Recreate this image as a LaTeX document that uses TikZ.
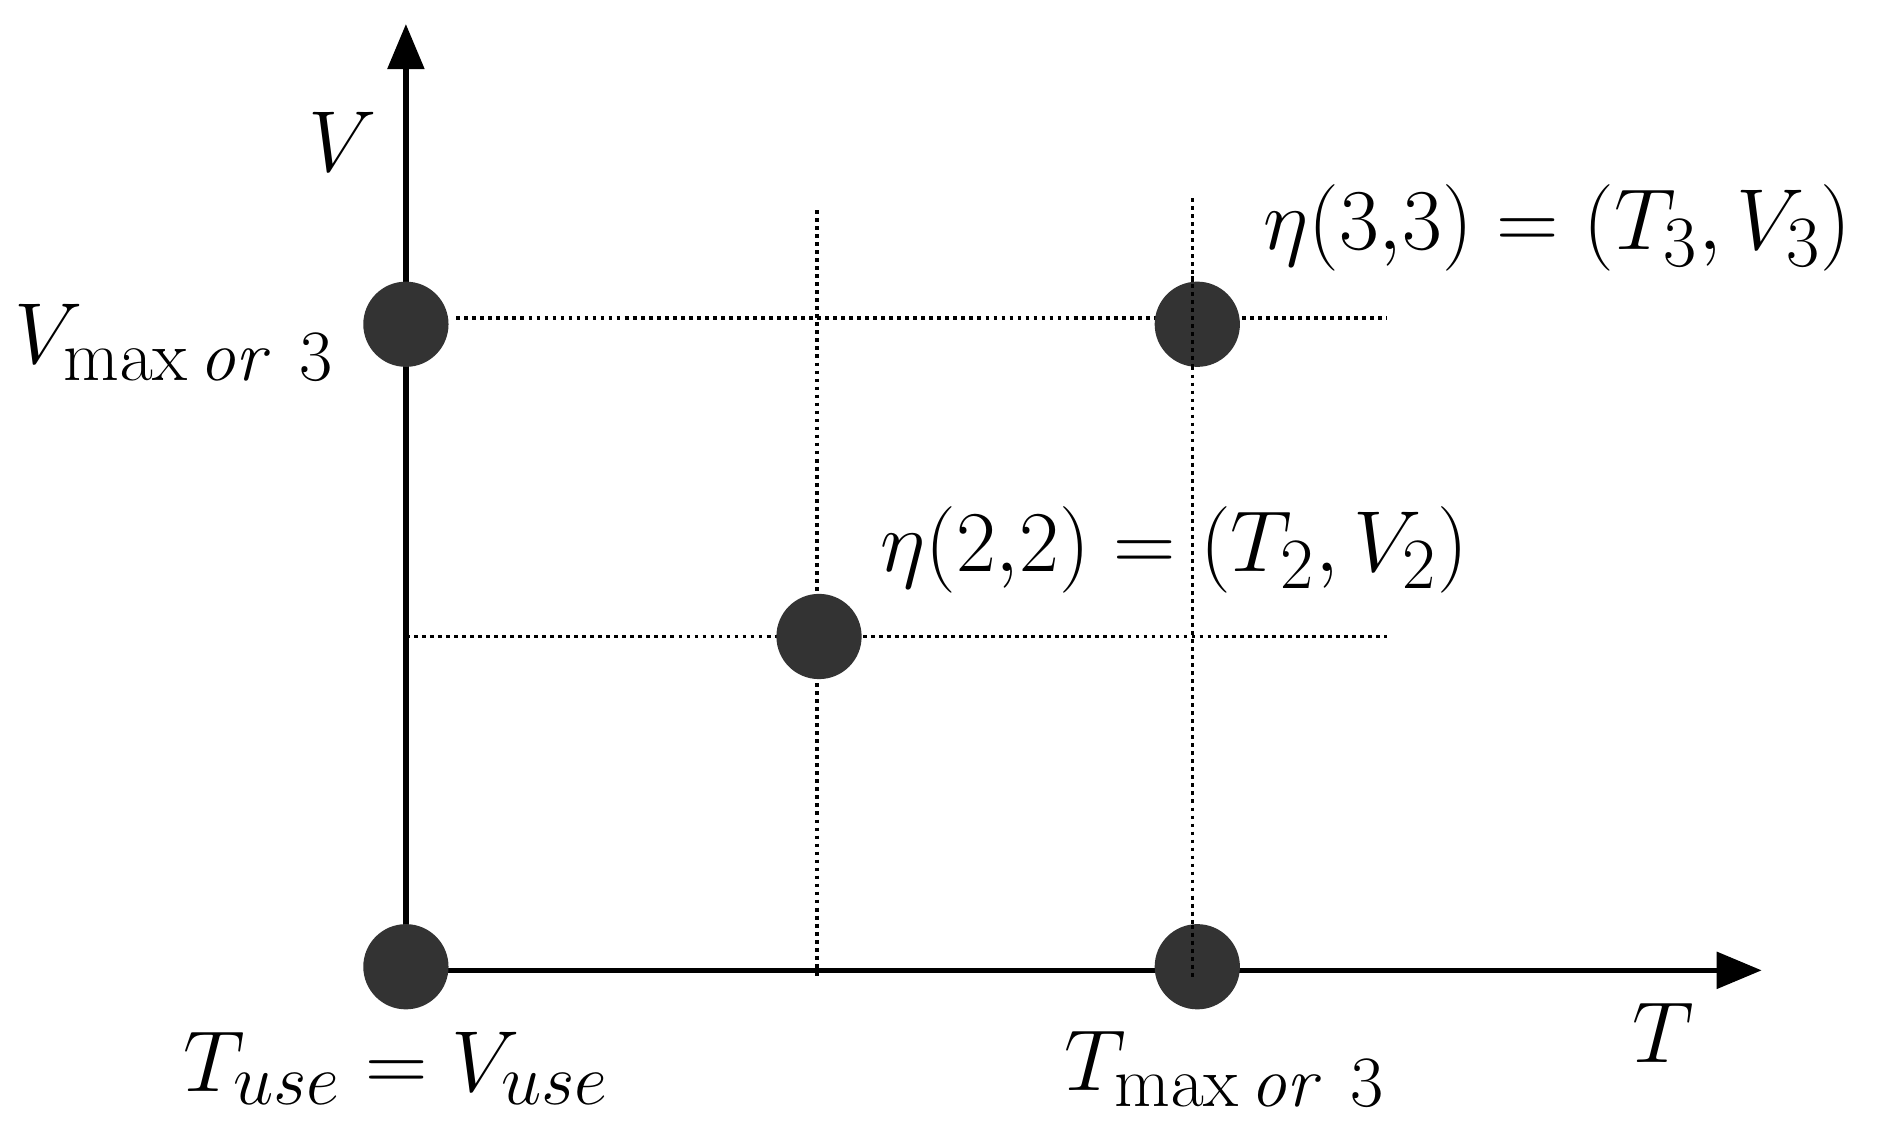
\documentclass[tikz,border=0pt]{standalone}
\usepackage{graphicx}
\usetikzlibrary{arrows.meta}
\newcommand{\bigtxt}[1]{\scalebox{1.65}{\fontsize{24.88}{28}\selectfont #1}}
\begin{document}
\begin{tikzpicture}[x=0.02cm,y=-0.02cm,
  dot/.style={circle,fill=black!80,minimum size=1.42cm,inner sep=0pt},
  axis/.style={line width=2.6pt,-{Triangle[length=0.75cm,width=0.6cm]}},
  grid/.style={dotted,line width=1.8pt},
  lbl/.style={inner sep=0pt}]
\useasboundingbox (0,0) rectangle (1568,948);
\coordinate (o) at (338,808);
\coordinate (ytip) at (338,20);
\coordinate (xtip) at (1467,808);
\draw[grid] (380,265) -- (1155,265);
\draw[grid] (338,530) -- (1155,530);
\draw[grid] (680,175) -- (680,815);
\draw[grid] (993,165) -- (993,815);
\draw[axis] (o) -- (ytip);
\draw[axis] (o) -- (xtip);
\node[dot] (d1) at (338,270) {};
\node[dot] (d0) at (338,805) {};
\node[dot] (d2) at (682,530) {};
\node[dot] (d3) at (997,270) {};
\node[dot] (d4) at (997,805) {};
\draw[grid] (993,230) -- (993,310);
\draw[grid] (993,770) -- (993,815);
\node[lbl] (lv) at (285,118) {\bigtxt{$V$}};
\node[lbl] (lt) at (1385,860) {\bigtxt{$T$}};
\node[lbl] (lvm) at (145,285) {\bigtxt{$V_{\max\mathit{or}\ 3}$}};
\node[lbl] (ltu) at (330,890) {\bigtxt{$T_{use}=V_{use}$}};
\node[lbl] (ltm) at (1020,890) {\bigtxt{$T_{\max\mathit{or}\ 3}$}};
\node[lbl] (e3) at (1297,190) {\bigtxt{$\eta(3{,}3)=(T_3,V_3)$}};
\node[lbl] (e2) at (978,458) {\bigtxt{$\eta(2{,}2)=(T_2,V_2)$}};
\end{tikzpicture}
\end{document}
